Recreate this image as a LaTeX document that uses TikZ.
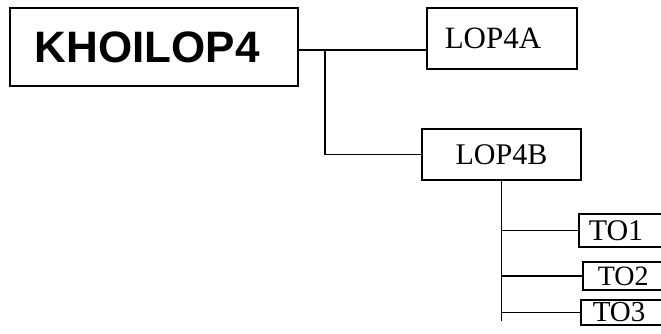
\documentclass[tikz,border=0pt]{standalone}
\usepackage{fontspec}
\setmainfont{Liberation Serif}
\newfontfamily\headfont{Liberation Sans}
\usetikzlibrary{positioning, calc}
\tikzset{
    box/.style={draw, line width=1.5pt, inner sep=0pt},
    leaf/.style={box, anchor=west, text width=#1, align=left, inner xsep=10pt, inner ysep=0pt},
    link/.style={line width=1.5pt},
}

\begin{document}
\begin{tikzpicture}[x=1pt, y=-1pt]
    \useasboundingbox (0,0) rectangle (661,334);
    \clip (0,0) rectangle (661,334);

    \node[box, line width=2pt, minimum width=288pt, minimum height=78pt, font=\headfont\bfseries\fontsize{44}{46}\selectfont] (khoi) at (154,47) {\hspace*{-14pt}KHOILOP4};
    \node[box, minimum width=150pt, minimum height=61pt, font=\fontsize{31}{33}\selectfont] (lop4a) at (502,38.5) {\hspace*{-18pt}LOP4A};
    \node[box, minimum width=159pt, minimum height=51pt, font=\fontsize{30}{32}\selectfont] (lop4b) at (501.5,154.5) {LOP4B};

    \node[leaf=110pt, minimum height=33pt, font=\fontsize{30}{32}\selectfont] (to1) at (578,230.5) {TO1};
    \node[leaf=110pt, minimum height=28pt, inner xsep=15pt, font=\fontsize{28}{30}\selectfont] (to2) at (582,276) {TO2};
    \node[leaf=110pt, minimum height=25pt, inner xsep=12pt, font=\fontsize{29}{31}\selectfont] (to3) at (580,312.5) {TO3};

    \coordinate (split) at (325,50);
    \coordinate (trunk) at ($(lop4b.south)+(0,140)$);

    \draw[link] (khoi.east |- split) -- (split -| lop4a.west);
    \draw[link] (split) |- (lop4b.west);
    \draw[link] (lop4b.south) -- (trunk);
    \foreach \t in {to1, to2, to3}
      \draw[link] (lop4b.south |- \t.west) -- (\t.west);
\end{tikzpicture}
\end{document}
